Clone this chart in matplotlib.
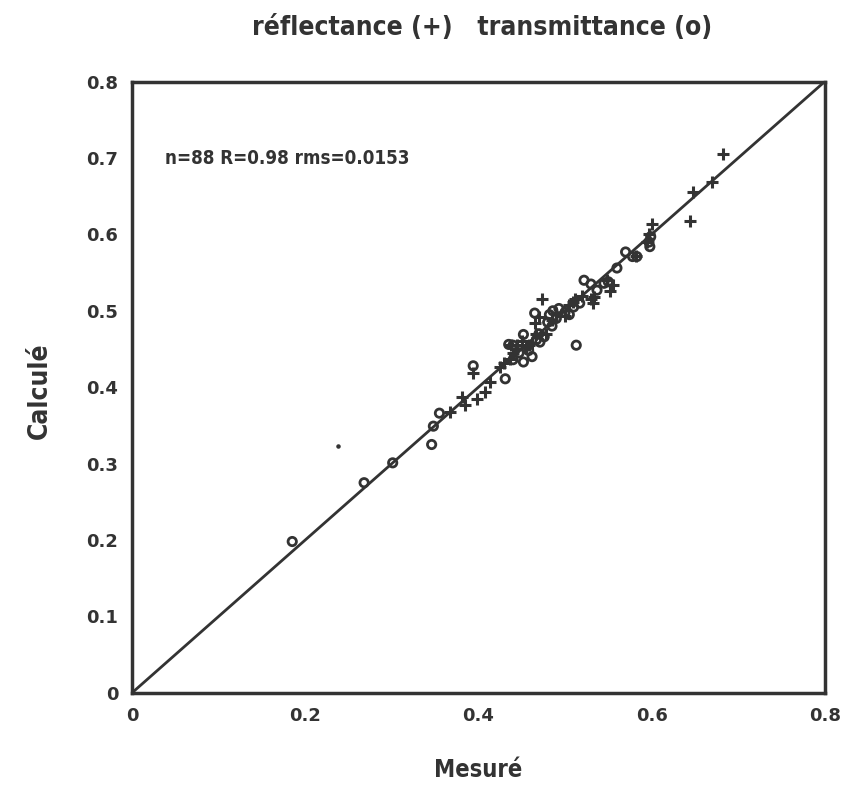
import matplotlib
matplotlib.use("Agg")
import matplotlib.pyplot as plt

# reflectance points (+)
refl_x = [0.682, 0.670, 0.648, 0.644, 0.600, 0.597, 0.555, 0.552, 0.532, 0.509,
          0.473, 0.465, 0.470, 0.478, 0.462, 0.455, 0.445, 0.440, 0.425, 0.430,
          0.413, 0.408, 0.398, 0.381, 0.385, 0.367, 0.394, 0.436, 0.500, 0.490,
          0.512, 0.520, 0.534, 0.595, 0.582, 0.485, 0.445, 0.450, 0.505, 0.530,
          0.548, 0.466, 0.438, 0.458]
refl_y = [0.705, 0.669, 0.656, 0.618, 0.613, 0.600, 0.534, 0.526, 0.510, 0.512,
          0.516, 0.484, 0.492, 0.470, 0.458, 0.452, 0.450, 0.445, 0.427, 0.432,
          0.407, 0.394, 0.384, 0.387, 0.377, 0.368, 0.419, 0.437, 0.493, 0.497,
          0.515, 0.520, 0.518, 0.590, 0.572, 0.488, 0.455, 0.460, 0.508, 0.515,
          0.540, 0.470, 0.455, 0.455]

# transmittance points (o)
trans_x = [0.185, 0.268, 0.301, 0.346, 0.348, 0.355, 0.394, 0.431, 0.452, 0.462,
           0.452, 0.471, 0.476, 0.440, 0.435, 0.465, 0.486, 0.493, 0.500, 0.510,
           0.517, 0.513, 0.522, 0.537, 0.560, 0.570, 0.583, 0.578, 0.598, 0.599,
           0.597, 0.545, 0.550, 0.480, 0.485, 0.467, 0.458, 0.447, 0.505, 0.470,
           0.490, 0.440, 0.530, 0.482]
trans_y = [0.198, 0.275, 0.301, 0.325, 0.349, 0.366, 0.428, 0.411, 0.433, 0.440,
           0.469, 0.459, 0.466, 0.455, 0.456, 0.497, 0.500, 0.503, 0.498, 0.505,
           0.510, 0.455, 0.540, 0.527, 0.556, 0.577, 0.571, 0.571, 0.584, 0.597,
           0.590, 0.536, 0.538, 0.485, 0.480, 0.462, 0.448, 0.445, 0.495, 0.470,
           0.490, 0.436, 0.535, 0.495]

# stray dot
dot_x = [0.238]
dot_y = [0.323]

xticks = [0, 0.2, 0.4, 0.6, 0.8]
yticks = [0, 0.1, 0.2, 0.3, 0.4, 0.5, 0.6, 0.7, 0.8]
tick_labels_x = ["0", "0.2", "0.4", "0.6", "0.8"]
tick_labels_y = ["0", "0.1", "0.2", "0.3", "0.4", "0.5", "0.6", "0.7", "0.8"]

ink = "#333333"
lab_font = dict(family="DejaVu Sans", fontstretch="condensed",
                fontweight="bold", color=ink)

fig = plt.figure(figsize=(8.52, 8.0), dpi=100)
ax = fig.add_axes([0.155, 0.134, 0.813, 0.764])

ax.plot([0, 0.8], [0, 0.8], color=ink, linewidth=2)
ax.scatter(refl_x, refl_y, marker="+", s=70, color=ink, linewidths=2.2, zorder=3)
ax.scatter(trans_x, trans_y, marker="o", s=36, facecolors="none",
           edgecolors=ink, linewidths=2.0, zorder=3)
ax.scatter(dot_x, dot_y, marker="o", s=5, color=ink, zorder=3)

ax.set_xlim(0, 0.8)
ax.set_ylim(0, 0.8)
ax.set_xticks(xticks)
ax.set_xticklabels(tick_labels_x)
ax.set_yticks(yticks)
ax.set_yticklabels(tick_labels_y)
ax.tick_params(length=0, pad=10, labelsize=13, colors=ink)
for lab in ax.get_xticklabels() + ax.get_yticklabels():
    lab.set_fontweight("bold")
for sp in ax.spines.values():
    sp.set_linewidth(2.5)
    sp.set_color(ink)

ax.text(0.038, 0.70, "n=88 R=0.98 rms=0.0153", fontsize=13.5, va="center",
        **lab_font)

fig.text(0.566, 0.965, "réflectance (+)   transmittance (o)", fontsize=19,
         ha="center", va="center", **lab_font)
fig.text(0.561, 0.037, "Mesuré", fontsize=17, ha="center", va="center",
         **lab_font)
fig.text(0.047, 0.512, "Calculé", fontsize=19, ha="center", va="center",
         rotation=90, **lab_font)

fig.savefig("out.png", dpi=100)
